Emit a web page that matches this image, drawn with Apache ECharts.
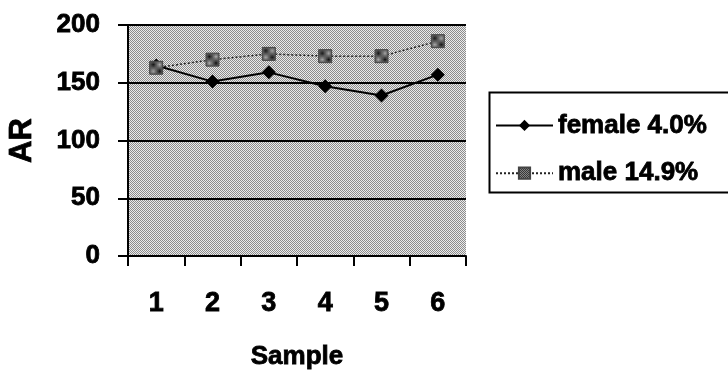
<!DOCTYPE html>
<html><head><meta charset="utf-8">
<script src="https://cdn.jsdelivr.net/npm/echarts@6/dist/echarts.min.js"></script>
<style>html,body{margin:0;padding:0;background:#fff}#c{width:728px;height:377px}</style>
</head><body><div id="c"></div>
<script>
const categories = ['1','2','3','4','5','6'];
const female = [165, 151, 159, 147, 139, 157];
const male = [163, 170, 175, 173, 173, 186];
const seriesNames = ['female 4.0%', 'male 14.9%'];
const yTicks = [0, 50, 100, 150, 200];

function makePattern(fg, bg) {
  const c = document.createElement('canvas');
  c.width = 4; c.height = 4;
  const g = c.getContext('2d');
  g.fillStyle = bg; g.fillRect(0,0,4,4);
  g.fillStyle = fg;
  g.fillRect(0,0,1,1); g.fillRect(2,0,1,1);
  g.fillRect(1,1,1,1); g.fillRect(3,1,1,1);
  g.fillRect(0,2,1,1); g.fillRect(2,2,1,1);
  g.fillRect(1,3,1,1); g.fillRect(3,3,1,1);
  return c;
}
const bgPat = {image: makePattern('#8c8c8c', '#ebebeb'), repeat: 'repeat'};
const mkPat = {image: makePattern('#111', '#aaa'), repeat: 'repeat'};

const font = {fontFamily: 'Liberation Sans, Arial, sans-serif', fontWeight: 'bold', color: '#000', textBorderColor: '#000', textBorderWidth: 0.8};
function f(size, extra) { return Object.assign({}, font, {fontSize: size}, extra || {}); }

const chart = echarts.init(document.getElementById('c'), null, {renderer: 'canvas'});
chart.setOption({
  animation: false,
  backgroundColor: '#fff',
  grid: {left: 128, right: 262, top: 25, bottom: 121, show: true, backgroundColor: bgPat, borderWidth: 0},
  graphic: [{type: 'rect', left: 487, top: 90, shape: {width: 260, height: 100}, style: {fill: 'none', stroke: '#000', lineWidth: 2}}],
  legend: {
    left: 490, top: 107, orient: 'vertical', itemGap: 21,
    itemWidth: 57, itemHeight: 14,
    data: seriesNames,
    textStyle: f(26, {padding: [0,0,0,0]})
  },
  xAxis: {
    type: 'category', data: categories, boundaryGap: true,
    name: 'Sample', nameLocation: 'middle', nameGap: 88,
    nameTextStyle: f(26),
    axisLine: {lineStyle: {color: '#000', width: 2}},
    axisTick: {show: true, length: 10, lineStyle: {color: '#000', width: 2}},
    axisLabel: f(27, {margin: 34}),
    splitLine: {show: false}
  },
  yAxis: {
    type: 'value', min: 0, max: 200, interval: 50,
    name: 'AR', nameLocation: 'middle', nameGap: 90, nameRotate: 90,
    nameTextStyle: f(31),
    axisLine: {show: true, lineStyle: {color: '#000', width: 2}},
    axisTick: {show: true, length: 10, inside: false, lineStyle: {color: '#000', width: 2}},
    axisLabel: f(26, {margin: 28, formatter: v => yTicks.includes(v) ? String(v) : ''}),
    splitLine: {show: true, lineStyle: {color: '#000', width: 2}}
  },
  series: [
    {name: seriesNames[0], type: 'line', data: female, symbol: 'diamond', symbolSize: 14,
     lineStyle: {color: '#000', width: 2}, itemStyle: {color: '#000'}},
    {name: seriesNames[1], type: 'line', data: male, symbol: 'rect', symbolSize: 13,
     lineStyle: {color: '#222', width: 1.5, type: [2, 2]}, itemStyle: {color: mkPat, borderColor: '#444', borderWidth: 1}}
  ]
});
</script></body></html>
